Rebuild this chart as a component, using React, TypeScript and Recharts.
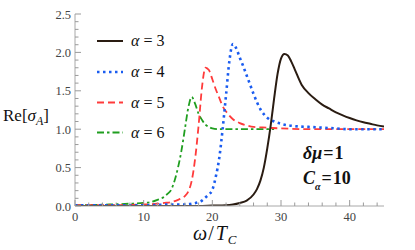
import React from 'react';
import { LineChart, Line, XAxis, YAxis, Legend } from 'recharts';

// ---- data ----
const alpha3W = [0, 5, 10, 15, 18, 20, 22, 23, 24, 25, 26, 26.5, 27, 27.5, 28, 28.5, 29, 29.5, 30, 30.5, 31, 31.5, 32, 33, 34, 35, 36, 37, 38, 39, 40, 41, 42, 43, 44, 45];
const alpha3V = [0, 0, 0, 0, 0, 0.005, 0.01, 0.02, 0.04, 0.07, 0.15, 0.22, 0.33, 0.5, 0.75, 1.05, 1.4, 1.72, 1.92, 1.98, 1.96, 1.88, 1.78, 1.58, 1.47, 1.39, 1.32, 1.27, 1.22, 1.18, 1.145, 1.115, 1.09, 1.07, 1.05, 1.035];

const alpha4W = [0, 5, 10, 14, 16, 17, 18, 18.5, 19, 19.5, 20, 20.5, 21, 21.5, 22, 22.5, 23, 23.5, 24, 24.5, 25, 25.5, 26, 27, 28, 29, 30, 32, 34, 36, 38, 40, 42, 45];
const alpha4V = [0.01, 0.01, 0.01, 0.02, 0.02, 0.03, 0.05, 0.07, 0.11, 0.15, 0.21, 0.38, 0.62, 1.0, 1.45, 1.9, 2.11, 2.05, 1.93, 1.82, 1.7, 1.58, 1.46, 1.26, 1.15, 1.1, 1.07, 1.04, 1.03, 1.02, 1.01, 1.0, 1.0, 1.0];

const alpha5W = [0, 5, 10, 12, 13, 14, 15, 15.5, 16, 16.5, 17, 17.5, 18, 18.5, 19, 19.5, 20, 20.5, 21, 21.5, 22, 23, 24, 25, 26, 28, 30, 35, 40, 45];
const alpha5V = [0.01, 0.01, 0.02, 0.03, 0.04, 0.05, 0.08, 0.1, 0.13, 0.19, 0.33, 0.62, 1.05, 1.55, 1.8, 1.77, 1.65, 1.52, 1.41, 1.3, 1.23, 1.13, 1.08, 1.05, 1.03, 1.02, 1.01, 1.0, 1.0, 1.0];

const alpha6W = [0, 5, 8, 10, 11, 12, 13, 13.5, 14, 14.5, 15, 15.5, 16, 16.5, 17, 17.5, 18, 18.5, 19, 19.5, 20, 21, 22, 24, 26, 28, 29];
const alpha6V = [0.01, 0.02, 0.03, 0.04, 0.05, 0.08, 0.12, 0.16, 0.21, 0.33, 0.5, 0.72, 1.0, 1.28, 1.42, 1.33, 1.2, 1.12, 1.06, 1.03, 1.01, 1.0, 1.0, 1.0, 1.0, 1.0, 1.0];

const xMajor = [0, 10, 20, 30, 40];
const xMinor = [2, 4, 6, 8, 12, 14, 16, 18, 22, 24, 26, 28, 32, 34, 36, 38, 42, 44];
const yMajor = [0, 0.5, 1, 1.5, 2, 2.5];
const yMinor = [0.1, 0.2, 0.3, 0.4, 0.6, 0.7, 0.8, 0.9, 1.1, 1.2, 1.3, 1.4, 1.6, 1.7, 1.8, 1.9, 2.1, 2.2, 2.3, 2.4];

const legendAlphas = ['3', '4', '5', '6'];

const zip = (w: number[], v: number[]) => w.map((x, i) => ({ w: x, v: v[i] }));
const data3 = zip(alpha3W, alpha3V);
const data4 = zip(alpha4W, alpha4V);
const data5 = zip(alpha5W, alpha5V);
const data6 = zip(alpha6W, alpha6V);

const xTicks = [...xMajor, ...xMinor].sort((a, b) => a - b);
const yTicks = [...yMajor, ...yMinor].sort((a, b) => a - b);

const SERIF = "'Liberation Serif', 'Times New Roman', Times, serif";
const TICK = '#9a9a9a';
const FRAME = '#a8a8a8';

const COLORS = ['#2a1c12', '#1a5cf0', '#ff3b3b', '#1f9e1f'];
const DASHES = [undefined, '2.5 3.5', '7 4', '7 3 2.5 3'];
const WIDTHS = [2, 2.6, 1.8, 1.8];

const isMajor = (arr: number[], v: number) => arr.some((m) => Math.abs(m - v) < 1e-9);

const serifStyle = { fontFamily: SERIF };

const BottomTick = (props: any) => {
  const { x, y, payload } = props;
  const v = payload.value;
  const major = isMajor(xMajor, v);
  return (
    <g>
      <line x1={x} x2={x} y1={y} y2={y - (major ? 6 : 3.5)} stroke={TICK} strokeWidth={1} />
      {major && (
        <text x={x} y={y + 15} textAnchor="middle" style={serifStyle} fontSize={12.5} fill="#444">
          {v}
        </text>
      )}
    </g>
  );
};

const TopTick = (props: any) => {
  const { x, y, payload } = props;
  const major = isMajor(xMajor, payload.value);
  return <line x1={x} x2={x} y1={y} y2={y + (major ? 6 : 3.5)} stroke={TICK} strokeWidth={1} />;
};

const LeftTick = (props: any) => {
  const { x, y, payload } = props;
  const v = payload.value;
  const major = isMajor(yMajor, v);
  return (
    <g>
      <line x1={x} x2={x + (major ? 6 : 3.5)} y1={y} y2={y} stroke={TICK} strokeWidth={1} />
      {major && (
        <text x={x - 4} y={y + 4.5} textAnchor="end" style={serifStyle} fontSize={12.5} fill="#444">
          {v.toFixed(1)}
        </text>
      )}
    </g>
  );
};

const RightTick = (props: any) => {
  const { x, y, payload } = props;
  const major = isMajor(yMajor, payload.value);
  return <line x1={x} x2={x - (major ? 6 : 3.5)} y1={y} y2={y} stroke={TICK} strokeWidth={1} />;
};

const Overlay = () => {
  const ys = [41, 72, 102.5, 132.5];
  return (
    <svg width={415} height={250} style={{ position: 'absolute', left: 0, top: 0, overflow: 'visible' }}>
      {legendAlphas.map((a, i) => (
        <g key={a}>
          <line
            x1={97}
            x2={123}
            y1={ys[i]}
            y2={ys[i]}
            stroke={COLORS[i]}
            strokeWidth={WIDTHS[i]}
            strokeDasharray={DASHES[i]}
          />
          <text x={131} y={ys[i] + 5} style={serifStyle} fontSize={16} fill="#111">
            <tspan fontStyle="italic">α</tspan>
            <tspan dx={4}>=</tspan>
            <tspan dx={4}>{a}</tspan>
          </text>
        </g>
      ))}
      {/* y label */}
      <text x={3} y={121} style={serifStyle} fontSize={17} fill="#111">
        <tspan>Re[</tspan>
        <tspan fontStyle="italic">σ</tspan>
        <tspan fontStyle="italic" fontSize={12} dy={4}>A</tspan>
        <tspan dy={-4}>]</tspan>
      </text>
      {/* x label */}
      <text x={193} y={240} style={serifStyle} fontSize={20} fill="#111">
        <tspan fontStyle="italic">ω</tspan>
        <tspan dx={1}>/</tspan>
        <tspan fontStyle="italic" dx={2}>T</tspan>
        <tspan fontStyle="italic" fontSize={13} dy={4} dx={1}>C</tspan>
      </text>
      {/* annotations */}
      <text x={303} y={159} style={serifStyle} fontSize={18} fontWeight="bold" fill="#111">
        <tspan fontStyle="italic">δμ</tspan>
        <tspan dx={1}>=</tspan>
        <tspan dx={1}>1</tspan>
      </text>
      <text x={303} y={184} style={serifStyle} fontSize={18} fontWeight="bold" fill="#111">
        <tspan fontStyle="italic">C</tspan>
        <tspan fontStyle="italic" fontSize={10} dy={6}>α</tspan>
        <tspan dy={-6} dx={1}>=</tspan>
        <tspan dx={1}>10</tspan>
      </text>
    </svg>
  );
};

export default function App() {
  return (
    <div style={{ position: 'absolute', left: 0, top: 0, width: 415, height: 250, background: '#fff' }}>
      <LineChart width={415} height={250} margin={{ top: 14, right: 31, bottom: 14, left: 15 }}>
        <XAxis
          dataKey="w"
          type="number"
          domain={[0, 45]}
          ticks={xTicks}
          interval={0}
          tick={<BottomTick />}
          tickLine={false}
          tickSize={0}
          tickMargin={0}
          axisLine={{ stroke: FRAME }}
          height={30}
          allowDataOverflow
        />
        <XAxis
          xAxisId="top"
          orientation="top"
          dataKey="w"
          type="number"
          domain={[0, 45]}
          ticks={xTicks}
          interval={0}
          tick={<TopTick />}
          tickLine={false}
          tickSize={0}
          tickMargin={0}
          axisLine={{ stroke: FRAME }}
          height={0}
          allowDataOverflow
        />
        <YAxis
          type="number"
          domain={[0, 2.5]}
          ticks={yTicks}
          interval={0}
          tick={<LeftTick />}
          tickLine={false}
          tickSize={0}
          tickMargin={0}
          axisLine={{ stroke: FRAME }}
          width={60}
          allowDataOverflow
        />
        <YAxis
          yAxisId="right"
          orientation="right"
          type="number"
          domain={[0, 2.5]}
          ticks={yTicks}
          interval={0}
          tick={<RightTick />}
          tickLine={false}
          tickSize={0}
          tickMargin={0}
          axisLine={{ stroke: FRAME }}
          width={0}
          allowDataOverflow
        />
        <Line data={data6} dataKey="v" type="monotone" stroke={COLORS[3]} strokeWidth={WIDTHS[3]} strokeDasharray={DASHES[3]} dot={false} isAnimationActive={false} />
        <Line data={data5} dataKey="v" type="monotone" stroke={COLORS[2]} strokeWidth={WIDTHS[2]} strokeDasharray={DASHES[2]} dot={false} isAnimationActive={false} />
        <Line data={data4} dataKey="v" type="monotone" stroke={COLORS[1]} strokeWidth={WIDTHS[1]} strokeDasharray={DASHES[1]} dot={false} isAnimationActive={false} />
        <Line data={data3} dataKey="v" type="monotone" stroke={COLORS[0]} strokeWidth={WIDTHS[0]} dot={false} isAnimationActive={false} />
        <Legend
          layout="vertical"
          align="center"
          verticalAlign="middle"
          content={() => <Overlay />}
          wrapperStyle={{ position: 'absolute', left: 0, top: 0, width: 415, height: 250, pointerEvents: 'none' }}
        />
      </LineChart>
    </div>
  );
}
